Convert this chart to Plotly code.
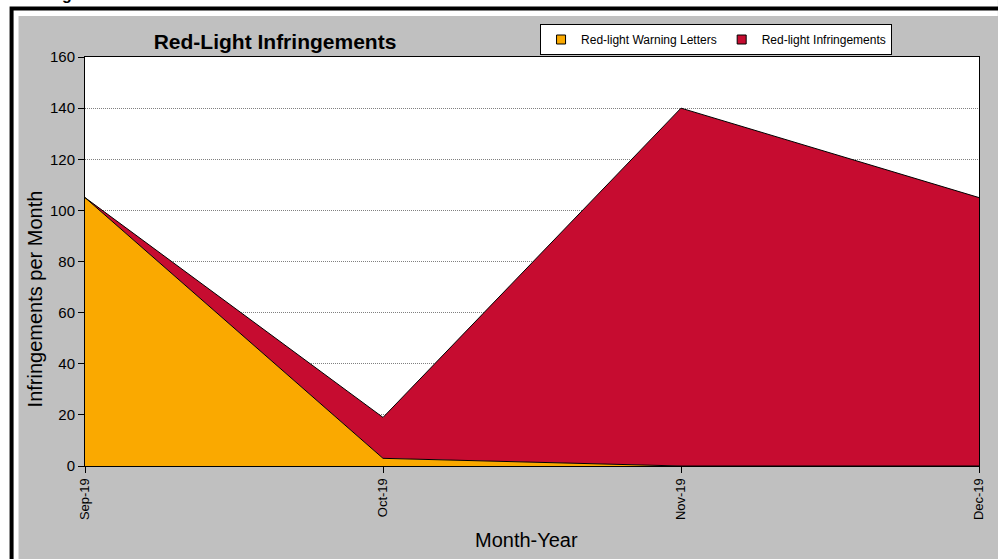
import plotly.graph_objects as go

months = ["Sep-19", "Oct-19", "Nov-19", "Dec-19"]
warning_letters = [105, 3, 0, 0]
infringements = [0, 16, 140, 105]
y_ticks = [0, 20, 40, 60, 80, 100, 120, 140, 160]
series_names = ["Red-light Warning Letters", "Red-light Infringements"]
series_colors = ["#FAA900", "#C60C30"]

W, H = 998, 559
L, R, T, B = 85, 986, 57, 466  # plot area in px


def px(x):
    return (x - L) / (R - L)


def py(y):
    return (B - y) / (B - T)


xs = list(range(len(months)))

fig = go.Figure()
for vals, name, col in zip([warning_letters, infringements], series_names, series_colors):
    fig.add_trace(go.Scatter(
        x=xs, y=vals, name=name, stackgroup="one", mode="lines",
        line=dict(color="black", width=1), fillcolor=col, showlegend=False,
    ))
# legend entries (square swatches)
for name, col in zip(series_names, series_colors):
    fig.add_trace(go.Scatter(
        x=[None], y=[None], name=name, mode="markers",
        marker=dict(symbol="square", size=9, color=col, line=dict(color="black", width=1)),
    ))

font = "Arial, Liberation Sans, sans-serif"

shapes = [
    dict(type="rect", xref="paper", yref="paper", x0=px(-5), x1=px(18), y0=py(570), y1=py(-5),
         fillcolor="white", line=dict(width=0), layer="below"),
    dict(type="rect", xref="paper", yref="paper", x0=px(-5), x1=px(1005), y0=py(16), y1=py(-5),
         fillcolor="white", line=dict(width=0), layer="below"),
    dict(type="rect", xref="paper", yref="paper", x0=px(11), x1=px(1010), y0=py(575), y1=py(8.5),
         fillcolor="rgba(0,0,0,0)", line=dict(color="black", width=4), layer="above"),
]

annotations = [
    dict(text="Infringements per Month", textangle=-90, xref="paper", yref="paper",
         x=px(35), y=py(299), xanchor="center", yanchor="middle", showarrow=False,
         font=dict(family=font, size=20, color="black")),
    dict(text="Month-Year", xref="paper", yref="paper",
         x=px(530), y=py(540), xanchor="center", yanchor="middle", showarrow=False,
         font=dict(family=font, size=20, color="black")),
    dict(text="<b>g</b>", xref="paper", yref="paper",
         x=px(67), y=py(5), xanchor="center", yanchor="bottom", showarrow=False,
         font=dict(family=font, size=16, color="black")),
]

fig.update_layout(
    width=W, height=H,
    margin=dict(l=L, r=W - R, t=T, b=H - B, pad=0),
    paper_bgcolor="#C0C0C0", plot_bgcolor="white",
    title=dict(text="<b>Red-Light Infringements</b>", x=275 / W, y=1 - 42 / H,
               xanchor="center", yanchor="middle",
               font=dict(family=font, size=21, color="black")),
    font=dict(family=font, color="black"),
    showlegend=True,
    legend=dict(orientation="h", x=px(721), y=py(24), xanchor="center", yanchor="top",
                bgcolor="white", bordercolor="black", borderwidth=1,
                font=dict(family=font, size=12, color="black"),
                traceorder="normal", tracegroupgap=0, itemwidth=30),
    shapes=shapes, annotations=annotations,
)

fig.update_xaxes(
    range=[0, len(months) - 1], tickvals=xs, ticktext=months, tickangle=-90,
    ticks="outside", ticklen=6, tickcolor="black", showline=True, linecolor="black",
    linewidth=1, mirror=True, showgrid=False, zeroline=False,
    tickfont=dict(family=font, size=13, color="black"),
)
fig.update_yaxes(
    range=[0, 160], tickvals=y_ticks, ticks="outside", ticklen=6, tickcolor="black",
    showline=True, linecolor="black", linewidth=1, mirror=True,
    showgrid=True, gridcolor="#808080", griddash="1px,1px", gridwidth=1, zeroline=False,
    tickfont=dict(family=font, size=15, color="black"),
)

fig.write_html("out.html", config={"displayModeBar": False},
               post_script="document.body.style.margin='0';document.body.style.overflow='hidden';")
